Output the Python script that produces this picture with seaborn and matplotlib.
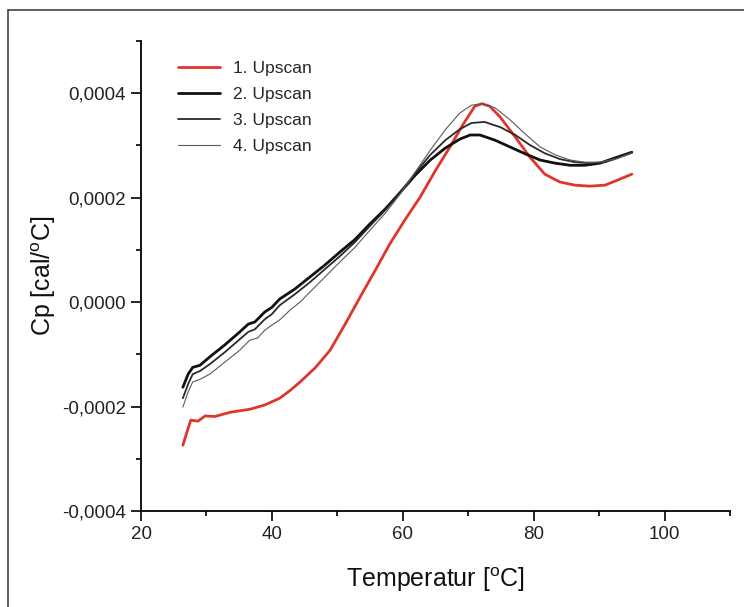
import numpy as np
import pandas as pd
import matplotlib
matplotlib.use("Agg")
import matplotlib.pyplot as plt
from matplotlib.lines import Line2D
from matplotlib.ticker import MultipleLocator, FuncFormatter
import seaborn as sns

# ---- data ----
t1 = [26.4, 27.6, 28.7, 29.8, 31.3, 33.6, 36.7, 38.9, 41.2, 42.8, 44.3, 46.6, 48.9, 51.2,
      53.5, 55.8, 58.0, 60.3, 62.6, 64.9, 67.2, 69.2, 71.0, 72.1, 73.3, 74.9, 77.2, 79.4,
      81.7, 84.0, 86.3, 88.6, 90.9, 92.9, 95.0]
cp1 = [-0.000274, -0.000226, -0.000228, -0.000218, -0.000219, -0.000211, -0.000205, -0.000197,
       -0.000184, -0.000169, -0.000153, -0.000126, -0.000092, -0.000042, 0.000010, 0.000061,
       0.000111, 0.000157, 0.000200, 0.000250, 0.000297, 0.000340, 0.000375, 0.000380,
       0.000375, 0.000354, 0.000316, 0.000278, 0.000245, 0.000230, 0.000224, 0.000222,
       0.000224, 0.000234, 0.000245]

t2 = [26.4, 27.2, 27.9, 29.0, 30.5, 32.8, 35.1, 36.4, 37.4, 38.9, 40.0, 41.2, 43.5, 45.8,
      48.1, 50.4, 52.7, 55.0, 57.3, 59.6, 61.9, 64.2, 66.5, 68.7, 70.3, 71.8, 74.1, 76.4,
      78.7, 81.0, 83.3, 85.6, 87.8, 90.1, 92.4, 95.0]
cp2 = [-0.000163, -0.000138, -0.000125, -0.000121, -0.000105, -0.000082, -0.000057, -0.000042,
       -0.000038, -0.000019, -0.000010, 0.000006, 0.000025, 0.000048, 0.000071, 0.000096,
       0.000120, 0.000150, 0.000178, 0.000210, 0.000243, 0.000272, 0.000295, 0.000312,
       0.000320, 0.000320, 0.000310, 0.000297, 0.000284, 0.000272, 0.000266, 0.000262,
       0.000262, 0.000266, 0.000276, 0.000287]

t3 = [26.4, 27.2, 27.9, 29.0, 30.5, 32.8, 35.1, 36.4, 37.4, 38.9, 40.0, 41.2, 43.5, 45.8,
      48.1, 50.4, 52.7, 55.0, 57.3, 59.6, 61.9, 64.2, 66.5, 68.7, 70.5, 72.5, 74.9, 77.2,
      79.4, 81.7, 84.0, 86.3, 88.6, 90.9, 92.9, 95.0]
cp3 = [-0.000184, -0.000157, -0.000138, -0.000132, -0.000119, -0.000096, -0.000071, -0.000057,
       -0.000052, -0.000033, -0.000023, -0.000006, 0.000015, 0.000038, 0.000063, 0.000088,
       0.000115, 0.000146, 0.000176, 0.000210, 0.000247, 0.000282, 0.000310, 0.000331,
       0.000343, 0.000345, 0.000335, 0.000320, 0.000301, 0.000285, 0.000274, 0.000268,
       0.000266, 0.000268, 0.000276, 0.000287]

t4 = [26.4, 27.2, 27.9, 29.0, 30.5, 32.8, 35.1, 36.6, 37.8, 38.9, 40.0, 41.2, 42.8, 44.3,
      45.8, 48.1, 50.4, 52.7, 55.0, 57.3, 59.6, 61.9, 64.2, 66.5, 68.7, 70.5, 72.1, 74.1,
      76.4, 78.7, 81.0, 83.3, 85.6, 87.8, 90.1, 92.4, 95.0]
cp4 = [-0.000201, -0.000172, -0.000153, -0.000148, -0.000138, -0.000115, -0.000092, -0.000073,
       -0.000069, -0.000054, -0.000044, -0.000034, -0.000015, 0.000000, 0.000019, 0.000048,
       0.000077, 0.000105, 0.000138, 0.000170, 0.000207, 0.000249, 0.000291, 0.000330,
       0.000362, 0.000377, 0.000380, 0.000372, 0.000349, 0.000322, 0.000297, 0.000282,
       0.000272, 0.000268, 0.000268, 0.000274, 0.000285]

labels = ["1. Upscan", "2. Upscan", "3. Upscan", "4. Upscan"]
series = [(t1, cp1), (t2, cp2), (t3, cp3), (t4, cp4)]
colors = ["#e0352b", "#111111", "#2a2a2a", "#5a5a5a"]
widths = [2.0, 2.0, 1.3, 0.8]

sns.set_theme(style="white")
plt.rcParams["font.family"] = ["Liberation Sans", "DejaVu Sans"]
plt.rcParams["mathtext.fontset"] = "custom"
plt.rcParams["mathtext.rm"] = "Liberation Sans"
plt.rcParams["mathtext.it"] = "Liberation Sans"

fig = plt.figure(figsize=(7.44, 6.07), dpi=100)
ax = fig.add_axes([141 / 744, 1 - 511 / 607, (730 - 141) / 744, (511 - 41) / 607])

for (t, cp), lab, c, w in zip(series, labels, colors, widths):
    df = pd.DataFrame({"T": t, "Cp": cp})
    sns.lineplot(data=df, x="T", y="Cp", ax=ax, color=c, linewidth=w, label=lab,
                 estimator=None, sort=False)

ax.set_xlim(20, 110)
ax.set_ylim(-0.0004, 0.0005)
ax.xaxis.set_major_locator(MultipleLocator(20))
ax.xaxis.set_minor_locator(MultipleLocator(10))
ax.yaxis.set_major_locator(MultipleLocator(0.0002))
ax.yaxis.set_minor_locator(MultipleLocator(0.0001))
ax.yaxis.set_major_formatter(FuncFormatter(lambda v, p: f"{v:.4f}".replace(".", ",").replace("-0,0000", "0,0000")))

for s in ["top", "right"]:
    ax.spines[s].set_visible(False)
for s in ["left", "bottom"]:
    ax.spines[s].set_color("black")
    ax.spines[s].set_linewidth(1.3)

ax.tick_params(axis="both", which="major", direction="out", length=7, width=1.2,
               colors="black", labelsize=13.5, pad=4, left=True, bottom=True)
ax.tick_params(axis="both", which="minor", direction="out", length=3.6, width=1.2,
               colors="black", left=True, bottom=True)
for lab in ax.get_xticklabels() + ax.get_yticklabels():
    lab.set_color("#222222")

ax.set_xlabel(r"Temperatur [$^{\rm o}$C]", fontsize=18, labelpad=16, color="#111111")
ax.set_ylabel(r"Cp [cal/$^{\rm o}$C]", fontsize=18, labelpad=3, color="#111111")

leg = ax.legend(loc="upper left", bbox_to_anchor=((178 - 141) / 589, (511 - 61) / 470),
                frameon=False, borderpad=0, borderaxespad=0,
                fontsize=12.5, handlelength=2.4, handletextpad=0.75, labelspacing=0.63)
for h, w, c in zip(leg.get_lines(), widths, colors):
    h.set_linewidth(w)
    h.set_color(c)

# outer frame lines (left and top visible in reference)
fig.add_artist(Line2D([7.5 / 744, 7.5 / 744], [0, 1 - 9.5 / 607], transform=fig.transFigure,
                      color="#444444", linewidth=1.2))
fig.add_artist(Line2D([7.5 / 744, 1], [1 - 9.5 / 607, 1 - 9.5 / 607], transform=fig.transFigure,
                      color="#444444", linewidth=1.2))

fig.savefig("out.png", dpi=100)
